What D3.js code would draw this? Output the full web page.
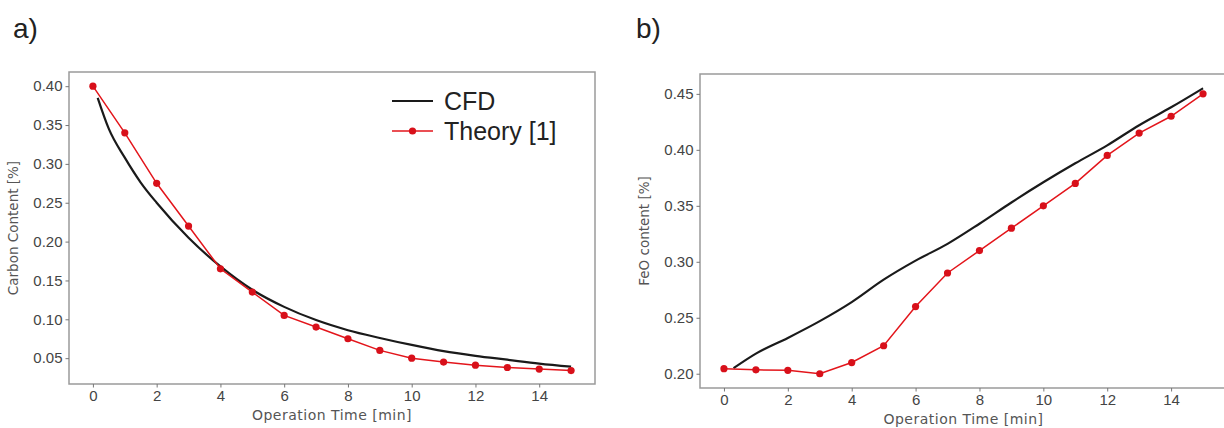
<!DOCTYPE html>
<html>
<head>
<meta charset="utf-8">
<script src="https://cdn.jsdelivr.net/npm/d3@7"></script>
<style>
  body { margin: 0; background: #fff; }
  svg { display: block; font-family: "DejaVu Sans", sans-serif; }
</style>
</head>
<body>
<svg id="chart" width="1224" height="428"></svg>
<script>
// ---- data ----
const theoryTime = [0, 1, 2, 3, 4, 5, 6, 7, 8, 9, 10, 11, 12, 13, 14, 15];

// panel a: carbon content
const carbonTheory = [0.400, 0.340, 0.275, 0.220, 0.165, 0.135, 0.105, 0.090, 0.075, 0.060, 0.050, 0.045, 0.041, 0.038, 0.036, 0.034];
const carbonCfdTime = [0.15, 0.5, 1, 1.5, 2, 3, 4, 5, 6, 7, 8, 9, 10, 11, 12, 13, 14, 15];
const carbonCfd = [0.385, 0.345, 0.308, 0.276, 0.250, 0.205, 0.168, 0.138, 0.116, 0.099, 0.086, 0.076, 0.067, 0.059, 0.053, 0.048, 0.043, 0.039];

// panel b: FeO content
const feoTheory = [0.2045, 0.2035, 0.203, 0.200, 0.210, 0.225, 0.260, 0.290, 0.310, 0.330, 0.350, 0.370, 0.395, 0.415, 0.430, 0.450];
const feoCfdTime = [0.3, 1, 2, 3, 4, 5, 6, 7, 8, 9, 10, 11, 12, 13, 14, 15];
const feoCfd = [0.205, 0.218, 0.232, 0.247, 0.264, 0.284, 0.301, 0.316, 0.334, 0.353, 0.371, 0.388, 0.404, 0.422, 0.438, 0.455];

const xTicks = [0, 2, 4, 6, 8, 10, 12, 14];
const carbonTicks = [0.05, 0.10, 0.15, 0.20, 0.25, 0.30, 0.35, 0.40];
const feoTicks = [0.20, 0.25, 0.30, 0.35, 0.40, 0.45];

const RED = '#e3151b';
const svg = d3.select('#chart');

function drawPanel(opt) {
  const x = d3.scaleLinear().domain([-0.75, 15.75]).range([opt.left, opt.right]);
  const y = d3.scaleLinear().domain(opt.yDomain).range([opt.bottom, opt.top]);
  const g = svg.append('g');

  // frame
  g.append('rect')
    .attr('x', opt.left).attr('y', opt.top)
    .attr('width', opt.right - opt.left).attr('height', opt.bottom - opt.top)
    .attr('fill', 'none').attr('stroke', '#9a9a9a').attr('stroke-width', 1.5);

  const xAxis = g.append('g')
    .attr('transform', `translate(0,${opt.bottom})`)
    .call(d3.axisBottom(x).tickValues(xTicks).tickSize(3.5).tickPadding(3).tickFormat(d3.format('d')));
  const yAxis = g.append('g')
    .attr('transform', `translate(${opt.left},0)`)
    .call(d3.axisLeft(y).tickValues(opt.yTicks).tickSize(3.5).tickPadding(3).tickFormat(d3.format('.2f')));
  [xAxis, yAxis].forEach(a => {
    a.select('.domain').remove();
    a.selectAll('line').attr('stroke', '#777');
    a.selectAll('text').attr('fill', '#444').style('font-size', '15px');
  });

  // axis titles
  g.append('text')
    .attr('x', (x(0) + x(15)) / 2).attr('y', opt.bottom + 36)
    .attr('text-anchor', 'middle').attr('fill', '#555')
    .style('font-size', '14px').style('letter-spacing', '0.5px').text('Operation Time [min]');
  g.append('text')
    .attr('transform', `translate(${opt.left - 51},${(opt.top + opt.bottom) / 2}) rotate(-90)`)
    .attr('text-anchor', 'middle').attr('fill', '#555')
    .style('font-size', '13.5px').text(opt.yLabel);

  // CFD line
  const line = d3.line().x(d => x(d[0])).y(d => y(d[1])).curve(d3.curveMonotoneX);
  g.append('path')
    .datum(d3.zip(opt.cfdTime, opt.cfd))
    .attr('d', line)
    .attr('fill', 'none').attr('stroke', '#1a1a1a').attr('stroke-width', 2.2);

  // theory line + markers
  const lin = d3.line().x(d => x(d[0])).y(d => y(d[1]));
  const pts = d3.zip(theoryTime, opt.theory);
  g.append('path')
    .datum(pts)
    .attr('d', lin)
    .attr('fill', 'none').attr('stroke', RED).attr('stroke-width', 1.5);
  g.selectAll('circle.pt').data(pts).join('circle')
    .attr('class', 'pt')
    .attr('cx', d => x(d[0])).attr('cy', d => y(d[1]))
    .attr('r', 3.6).attr('fill', '#d8101a');

  // panel letter
  svg.append('text')
    .attr('x', opt.letterX).attr('y', 38)
    .attr('fill', '#222').style('font-family', '"Liberation Sans", Arial, sans-serif')
    .style('font-size', '28px').text(opt.letter);
}

drawPanel({
  left: 69, right: 595, top: 72, bottom: 384,
  yDomain: [0.01675, 0.41825], yTicks: carbonTicks,
  yLabel: 'Carbon Content [%]',
  theory: carbonTheory, cfdTime: carbonCfdTime, cfd: carbonCfd,
  letter: 'a)', letterX: 13
});

drawPanel({
  left: 700, right: 1227, top: 74, bottom: 388,
  yDomain: [0.18725, 0.46775], yTicks: feoTicks,
  yLabel: 'FeO content [%]',
  theory: feoTheory, cfdTime: feoCfdTime, cfd: feoCfd,
  letter: 'b)', letterX: 636
});

// legend (panel a)
const legend = svg.append('g').style('font-family', '"Liberation Sans", Arial, sans-serif');
legend.append('line').attr('x1', 392).attr('x2', 433).attr('y1', 101).attr('y2', 101)
  .attr('stroke', '#1a1a1a').attr('stroke-width', 2.2);
legend.append('text').attr('x', 444).attr('y', 110).attr('fill', '#222')
  .style('font-size', '25px').text('CFD');
legend.append('line').attr('x1', 392).attr('x2', 433).attr('y1', 131).attr('y2', 131)
  .attr('stroke', RED).attr('stroke-width', 1.5);
legend.append('circle').attr('cx', 412.5).attr('cy', 131).attr('r', 3.6).attr('fill', '#d8101a');
legend.append('text').attr('x', 444).attr('y', 140).attr('fill', '#222')
  .style('font-size', '25px').text('Theory [1]');
</script>
</body>
</html>
